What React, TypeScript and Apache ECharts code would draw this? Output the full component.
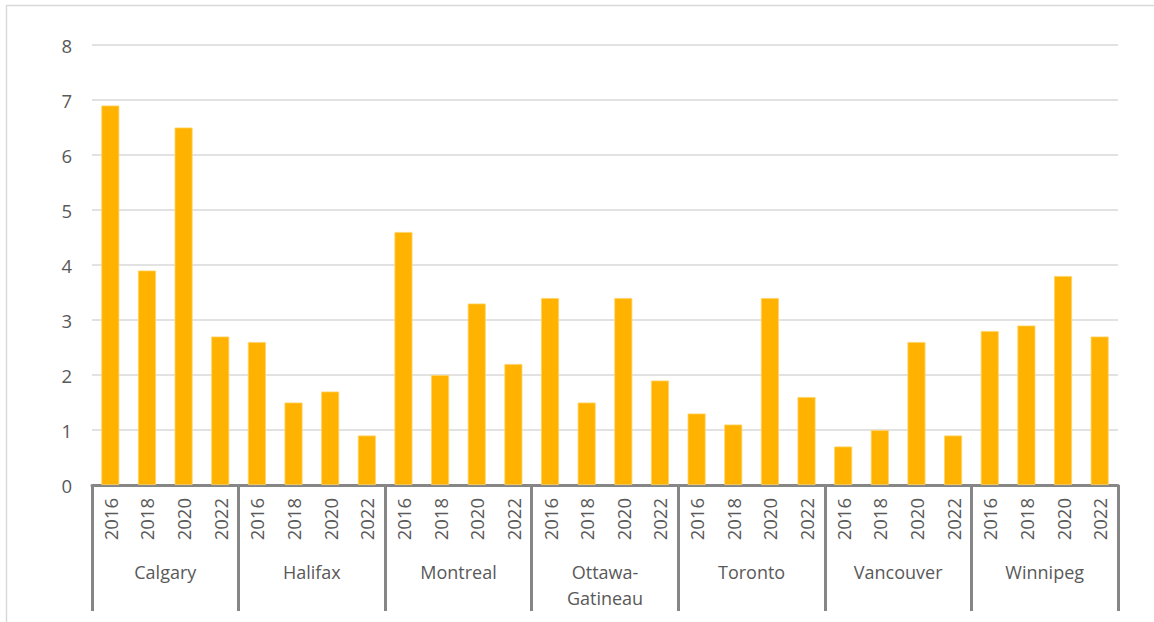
import React, { useEffect, useRef } from "react";
import * as echarts from "echarts";

const cities = ["Calgary", "Halifax", "Montreal", "Ottawa-\nGatineau", "Toronto", "Vancouver", "Winnipeg"];
const years = ["2016", "2018", "2020", "2022"];
const calgary = [6.9, 3.9, 6.5, 2.7];
const halifax = [2.6, 1.5, 1.7, 0.9];
const montreal = [4.6, 2.0, 3.3, 2.2];
const ottawa = [3.4, 1.5, 3.4, 1.9];
const toronto = [1.3, 1.1, 3.4, 1.6];
const vancouver = [0.7, 1.0, 2.6, 0.9];
const winnipeg = [2.8, 2.9, 3.8, 2.7];
const yTicks = { min: 0, max: 8, interval: 1 };

const FONT = "'Open Sans', 'Noto Sans', sans-serif";
const TEXT = "#595959";

export default function App() {
  const ref = useRef<HTMLDivElement>(null);
  useEffect(() => {
    if (!ref.current) return;
    const chart = echarts.init(ref.current, null, { renderer: "svg" });
    const groups = [calgary, halifax, montreal, ottawa, toronto, vancouver, winnipeg];
    const yearCats: string[] = [];
    const values: number[] = [];
    groups.forEach((g, gi) => {
      g.forEach((v, i) => {
        yearCats.push(years[i] + "_" + gi);
        values.push(v);
      });
    });
    chart.setOption({
      animation: false,
      backgroundColor: "#ffffff",
      textStyle: { fontFamily: FONT },
      graphic: [
        {
          type: "rect",
          shape: { x: 6.5, y: 5.5, width: 1200, height: 700 },
          style: { fill: "none", stroke: "#D9D9D9", lineWidth: 1.5 },
          silent: true,
        },
      ],
      grid: { left: 92, right: 36, top: 45, bottom: 137, containLabel: false },
      xAxis: [
        {
          type: "category",
          data: yearCats,
          position: "bottom",
          axisLine: { show: true, lineStyle: { color: "#868686", width: 3 } },
          axisTick: { show: false },
          axisLabel: {
            rotate: 90,
            margin: 13,
            color: TEXT,
            fontSize: 18.5,
            fontFamily: FONT,
            formatter: (v: string) => v.split("_")[0],
          },
          splitLine: { show: false },
        },
        {
          type: "category",
          data: cities,
          position: "bottom",
          gridIndex: 0,
          axisLine: { show: false },
          axisTick: { show: true, length: 126, lineStyle: { color: "#868686", width: 3 } },
          axisLabel: {
            margin: 74,
            color: TEXT,
            fontSize: 18,
            lineHeight: 26,
            fontFamily: FONT,
            verticalAlign: "top",
          },
          splitLine: { show: false },
        },
      ],
      yAxis: {
        type: "value",
        min: yTicks.min,
        max: yTicks.max,
        interval: yTicks.interval,
        axisLine: { show: false },
        axisTick: { show: false },
        axisLabel: { color: TEXT, fontSize: 18.5, margin: 20, fontFamily: FONT },
        splitLine: { lineStyle: { color: "#D9D9D9", width: 1.5 } },
      },
      series: [
        {
          type: "bar",
          xAxisIndex: 0,
          data: values,
          barWidth: 18,
          itemStyle: { color: "#FFB300", borderColor: "#FFD466", borderWidth: 0.8 },
        },
      ],
    });
    return () => chart.dispose();
  }, []);
  return (
    <div
      ref={ref}
      style={{ position: "fixed", left: 0, top: 0, width: 1154, height: 622 }}
    />
  );
}
